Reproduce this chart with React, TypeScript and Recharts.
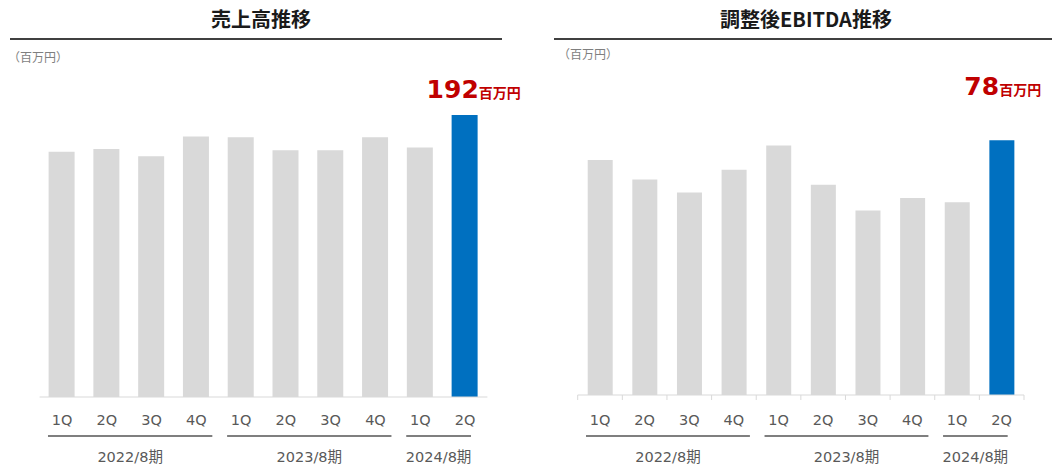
import React from 'react';
import { BarChart, Bar, XAxis, YAxis, Cell, LabelList } from 'recharts';

const quarters = ['1Q', '2Q', '3Q', '4Q', '1Q', '2Q', '3Q', '4Q', '1Q', '2Q'];
const periods = ['2022/8期', '2023/8期', '2024/8期'];
const periodSizes = [4, 4, 2];
const salesValues = [167, 169, 164, 177.5, 177, 168, 168, 177, 170, 192];
const ebitdaValues = [72, 66, 62, 69, 76.4, 64.4, 56.5, 60.3, 59, 78];

const FONT = '"Noto Sans CJK JP", "Noto Sans", sans-serif';
const WIDE = '"DejaVu Sans", "Noto Sans CJK JP", sans-serif';
const GRAY = '#D9D9D9';
const BLUE = '#0070C0';
const RED = '#C00000';

// first index of each period group
const periodStarts = periodSizes.map((_, i) =>
  periodSizes.slice(0, i).reduce((a, b) => a + b, 0)
);

const QuarterTick = (props: any) => {
  const { x, payload, band, baseY, marks } = props;
  const i = payload.index;
  const g = periodStarts.indexOf(i);
  let group = null;
  if (g >= 0) {
    const count = periodSizes[g];
    const x1 = x - 14;
    const x2 = x + (count - 1) * band + (count > 2 ? 16 : 6);
    group = (
      <g>
        <line x1={x1} x2={x2} y1={436} y2={436} stroke="#7F7F7F" strokeWidth={2} />
        <text
          x={(x1 + x2) / 2}
          y={457}
          textAnchor="middle"
          dominantBaseline="central"
          fontSize={14.5}
          fill="#595959"
          fontFamily={WIDE}
        >
          {periods[g]}
        </text>
      </g>
    );
  }
  return (
    <g>
      {marks && (
        <line x1={x - band / 2} x2={x - band / 2} y1={baseY} y2={baseY + 5} stroke={GRAY} />
      )}
      {marks && i === quarters.length - 1 && (
        <line x1={x + band / 2} x2={x + band / 2} y1={baseY} y2={baseY + 5} stroke={GRAY} />
      )}
      <text
        x={x}
        y={420}
        textAnchor="middle"
        dominantBaseline="central"
        fontSize={14.5}
        fill="#595959"
        fontFamily={WIDE}
      >
        {quarters[i]}
      </text>
      {group}
    </g>
  );
};

const QuarterChart = ({ values, width, margin, max, barSize, marks, gap }: any) => {
  const data = quarters.map((q, i) => ({ q, value: values[i] }));
  const plotW = width - margin.left - margin.right;
  const band = plotW / quarters.length;
  const baseY = 466 - margin.bottom - 60;
  const renderLabel = (p: any) => {
    if (p.index !== quarters.length - 1) return null;
    return (
      <text x={p.x - 25} y={p.y - gap} textAnchor="start" fill={RED} fontWeight={700}>
        <tspan fontSize={25} fontFamily={WIDE}>{p.value}</tspan>
        <tspan fontSize={14} fontFamily={FONT}>百万円</tspan>
      </text>
    );
  };
  return (
    <BarChart width={width} height={466} data={data} margin={margin}>
      <XAxis
        dataKey="q"
        height={60}
        axisLine={{ stroke: GRAY }}
        tickLine={false}
        interval={0}
        tick={<QuarterTick band={band} baseY={baseY} marks={marks} />}
      />
      <YAxis type="number" domain={[0, max]} hide />
      <Bar dataKey="value" barSize={barSize} isAnimationActive={false}>
        {data.map((_, i) => (
          <Cell key={`c-${i}`} fill={i === data.length - 1 ? BLUE : GRAY} />
        ))}
        <LabelList dataKey="value" content={renderLabel} />
      </Bar>
    </BarChart>
  );
};

const titleStyle: React.CSSProperties = {
  position: 'absolute',
  top: 5,
  transform: 'translateX(-50%)',
  fontSize: 20,
  fontWeight: 700,
  color: '#1a1a1a',
  whiteSpace: 'nowrap',
  fontFamily: FONT,
  lineHeight: '28px',
};

const unitStyle: React.CSSProperties = {
  position: 'absolute',
  fontSize: 12,
  color: '#7F7F7F',
  fontFamily: FONT,
  lineHeight: '14px',
};

export default function App() {
  return (
    <div style={{ position: 'relative', width: 1064, height: 466, background: '#fff', overflow: 'hidden' }}>
      <style>{`body{margin:0}`}</style>
      <div style={{ ...titleStyle, left: 261 }}>売上高推移</div>
      <div style={{ position: 'absolute', left: 10, top: 38, width: 492, height: 2, background: '#404040' }} />
      <div style={{ ...unitStyle, left: 8, top: 50 }}>（百万円）</div>

      <div style={{ ...titleStyle, left: 806 }}>調整後EBITDA推移</div>
      <div style={{ position: 'absolute', left: 554, top: 38, width: 498, height: 2, background: '#404040' }} />
      <div style={{ ...unitStyle, left: 558, top: 47 }}>（百万円）</div>

      <div style={{ position: 'absolute', left: 0, top: 0 }}>
        <QuarterChart
          values={salesValues}
          width={530}
          margin={{ top: 74, right: 42.6, bottom: 9, left: 39.6 }}
          max={220}
          barSize={26}
          marks={false}
          gap={17}
        />
      </div>
      <div style={{ position: 'absolute', left: 530, top: 0 }}>
        <QuarterChart
          values={ebitdaValues}
          width={534}
          margin={{ top: 68.5, right: 40, bottom: 11, left: 47.7 }}
          max={100}
          barSize={25}
          marks={true}
          gap={45}
        />
      </div>
    </div>
  );
}
